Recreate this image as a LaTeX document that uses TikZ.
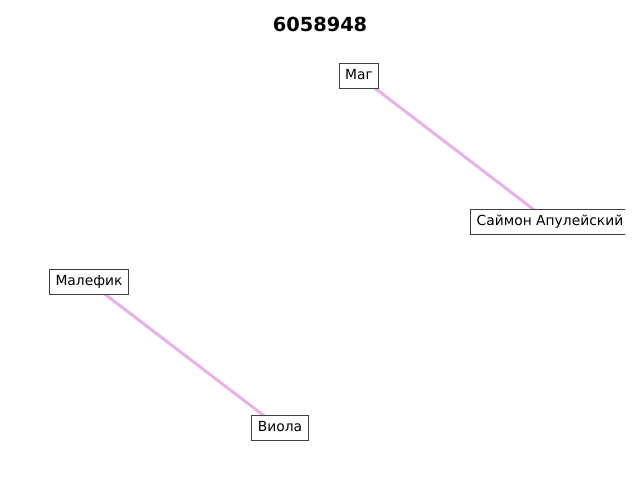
\documentclass[tikz,border=0pt]{standalone}
\usepackage{fontspec}
\setmainfont{DejaVu Sans}
\usetikzlibrary{positioning,backgrounds}
\definecolor{edgepink}{RGB}{234,176,234}
\definecolor{boxgray}{RGB}{64,64,64}
\tikzset{
    person/.style={draw=boxgray, fill=white, line width=0.75pt, inner sep=4.3pt,
        text height=7.5pt, text depth=2pt, font=\fontsize{10pt}{12pt}\selectfont},
    link/.style={edgepink, line width=2.2pt}
}

\begin{document}
\begin{tikzpicture}[x=0.01in, y=-0.01in]
    \useasboundingbox (0,0) rectangle (640,480);
    \node[font=\fontsize{14pt}{16pt}\selectfont\bfseries] (title) at (320,24) {6058948};

    \begin{scope}
        \clip (0,0) rectangle (625,480);
        % characters
        \node[person] (mag) at (359,76) {Маг};
        \node[person] (saimon) at (550,222) {Саймон Апулейский};
        \node[person] (malefik) at (89,282) {Малефик};
        \node[person] (viola) at (280,428) {Виола};

        % relations, behind the boxes
        \begin{scope}[on background layer]
            \draw[link] (mag.center) -- (saimon.center);
            \draw[link] (malefik.center) -- (viola.center);
        \end{scope}
    \end{scope}
\end{tikzpicture}
\end{document}
